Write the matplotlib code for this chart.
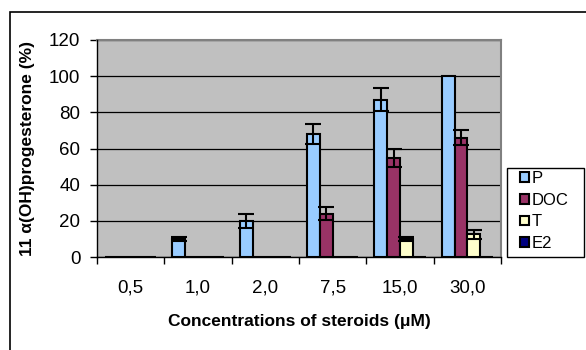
import matplotlib
matplotlib.use("Agg")
import matplotlib.pyplot as plt
import numpy as np
from matplotlib.patches import Rectangle

plt.rcParams['font.family'] = ['Liberation Sans', 'DejaVu Sans']

categories = ["0,5", "1,0", "2,0", "7,5", "15,0", "30,0"]
series_names = ["P", "DOC", "T", "E2"]
P_vals = [0, 10, 20, 68, 87, 100]
P_err = [0, 1, 4, 5.5, 6.5, 0]
DOC_vals = [0, 0, 0, 24, 55, 66]
DOC_err = [0, 0, 0, 3.5, 5, 4.3]
T_vals = [0, 0, 0, 0, 10, 12.5]
T_err = [0, 0, 0, 0, 1, 2.5]
E2_vals = [0, 0, 0, 0, 0, 0]
E2_err = [0, 0, 0, 0, 0, 0]
colors = ["#99CCFF", "#993366", "#FFFFCC", "#000080"]
y_ticks = [0, 20, 40, 60, 80, 100, 120]

W, H = 586, 350
fig = plt.figure(figsize=(W / 100, H / 100), dpi=100)

# outer chart frame
fig.patches.append(Rectangle((10 / W, -0.1), 1.2, 1 - 12 / H + 0.1, transform=fig.transFigure,
                             fill=False, edgecolor='black', linewidth=1.2))
# legend frame
fig.patches.append(Rectangle((507 / W, 1 - 257 / H), 77 / W, 89 / H, transform=fig.transFigure,
                             facecolor='white', edgecolor='black', linewidth=1))

ax = fig.add_axes([97 / W, 1 - 257 / H, (501 - 97) / W, (257 - 40) / H])
ax.set_facecolor("#C0C0C0")

x = np.arange(len(categories)) + 0.5
w = 0.19
vals = [P_vals, DOC_vals, T_vals, E2_vals]
errs = [P_err, DOC_err, T_err, E2_err]
handles = []
for i, (v, e, c, n) in enumerate(zip(vals, errs, colors, series_names)):
    pos = x + (i - 1.5) * w
    b = ax.bar(pos, v, width=w, color=c, edgecolor='black', linewidth=1.5, label=n, zorder=3)
    handles.append(b)
    e_arr = np.array(e)
    mask = e_arr > 0
    if mask.any():
        ax.errorbar(pos[mask], np.array(v)[mask], yerr=e_arr[mask], fmt='none', ecolor='black',
                    elinewidth=1.5, capsize=5.5, capthick=1.5, zorder=4)

ax.set_xlim(0, len(categories))
ax.set_ylim(0, 120)
ax.set_yticks(y_ticks)
ax.set_yticklabels([str(t) for t in y_ticks], fontsize=13.5)
ax.yaxis.grid(True, color='black', linewidth=0.9, zorder=1)
ax.set_axisbelow(True)

ax.set_xticks(np.arange(len(categories) + 1))
ax.set_xticklabels([])
ax.set_xticks(x, minor=True)
ax.set_xticklabels(categories, minor=True, fontsize=13.5)
ax.tick_params(axis='x', which='major', length=5, width=1, direction='out', color='black')
ax.tick_params(axis='x', which='minor', length=0, pad=16)
ax.tick_params(axis='y', length=5, width=1, direction='out', pad=7)

for s in ['top', 'right']:
    ax.spines[s].set_color('#808080')
    ax.spines[s].set_linewidth(1.5)
    ax.spines[s].set_zorder(2)
ax.spines['left'].set_color('black')
ax.spines['bottom'].set_color('black')
ax.spines['left'].set_linewidth(1)
ax.spines['bottom'].set_linewidth(1)

ax.set_xlabel("Concentrations of steroids (\u03bcM)", fontsize=12.5, fontweight='bold', labelpad=13)
ax.set_ylabel("11 \u03b1(OH)progesterone (%)", fontsize=12.5, fontweight='bold', labelpad=10)

leg = fig.legend(handles=handles, labels=series_names, loc='upper left',
                 bbox_to_anchor=(520 / W, 1 - 171 / H),
                 fontsize=12, frameon=False,
                 handlelength=0.55, handleheight=0.5,
                 handletextpad=0.15, borderaxespad=0, labelspacing=0.40, borderpad=0)
for hdl in leg.legend_handles:
    hdl.set_linewidth(1.5)

fig.savefig("out.png", dpi=100)
